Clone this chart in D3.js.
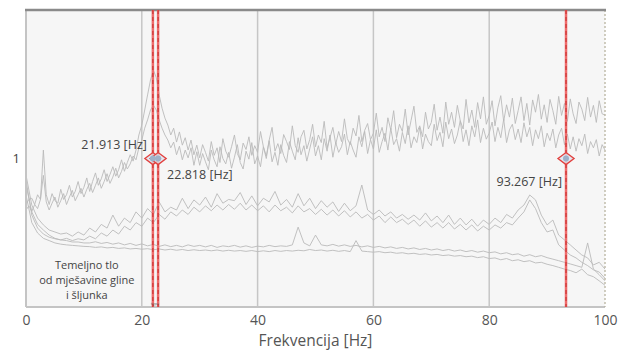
<!DOCTYPE html>
<html>
<head>
<meta charset="utf-8">
<script src="https://cdn.jsdelivr.net/npm/d3@7"></script>
<style>
  body { margin: 0; background: #fff; }
  svg { display: block; font-family: "Open Sans", "Noto Sans", sans-serif; }
</style>
</head>
<body>
<div id="chart"></div>
<script>
// frequency grids [Hz]
const freqFine = d3.range(0, 100.5, 0.5);
const freqCoarse = d3.range(0, 101, 1);

// upper spectra (0.5 Hz steps)
const upper1 = [0.49,0.53,0.54,0.49,0.57,0.53,1.14,0.57,
  0.49,0.58,0.52,0.50,0.62,0.53,0.57,0.66,0.55,0.60,0.70,0.58,
  0.64,0.74,0.60,0.70,0.80,0.66,0.73,0.84,0.70,0.78,
  0.88,0.76,0.84,0.98,0.82,0.94,1.06,0.96,1.14,1.44,
  1.68,2.12,2.68,3.38,3.94,3.50,2.68,2.18,1.87,1.68,
  1.44,1.60,1.29,1.51,1.23,1.38,1.14,1.33,1.06,1.23,
  1.01,1.24,1.10,0.96,1.30,1.05,1.18,0.94,1.36,1.12,
  1.02,1.20,1.44,1.08,0.98,1.27,1.15,1.40,1.05,1.22,
  1.10,1.52,1.20,1.04,1.33,1.62,1.12,1.26,1.08,1.45,
  1.30,1.15,1.66,1.22,1.10,1.40,1.55,1.16,1.34,1.70,
  1.20,1.44,1.28,1.78,1.18,1.38,1.62,1.25,1.52,1.30,
  1.85,1.36,1.24,1.60,1.42,1.95,1.30,1.55,1.72,1.34,
  1.48,2.02,1.40,1.62,1.30,1.88,1.56,2.10,1.38,1.70,
  1.52,2.15,1.44,1.80,2.25,1.50,1.66,1.40,2.05,1.58,
  1.75,2.32,1.55,1.90,1.48,2.40,1.70,2.05,1.62,2.28,
  1.80,1.58,2.50,1.74,2.12,1.62,2.38,1.85,2.60,1.70,
  1.95,2.45,1.66,2.20,2.65,1.78,2.30,1.90,2.55,1.72,
  2.10,2.60,1.80,2.35,1.68,2.48,2.05,2.70,1.84,2.30,
  1.75,2.50,2.10,1.70,2.62,1.95,2.35,1.78,2.52,2.00,
  1.72,2.40,2.15,1.80,2.58,1.90,2.28,1.75,2.45,2.00,
  1.96];

const upper2 = [0.45,0.48,0.44,0.49,0.46,0.53,0.77,0.51,
  0.45,0.50,0.55,0.47,0.52,0.58,0.49,0.55,0.61,0.52,0.57,0.63,
  0.55,0.62,0.68,0.59,0.66,0.74,0.63,0.70,0.79,0.68,
  0.75,0.86,0.74,0.82,0.94,0.85,0.92,1.04,0.98,1.18,
  1.33,1.60,1.82,2.12,2.29,2.12,1.82,1.60,1.44,1.33,
  1.18,1.29,1.06,1.21,0.98,1.14,1.01,1.18,0.90,1.11,
  0.90,1.08,0.95,0.84,1.14,0.98,0.88,1.20,1.00,0.92,
  1.10,0.86,1.02,1.24,0.94,0.85,1.12,0.99,1.28,0.92,
  1.04,0.88,1.20,1.00,1.32,0.95,1.10,0.90,1.24,1.05,
  0.94,1.30,1.12,0.98,1.38,1.06,1.22,0.96,1.16,1.40,
  1.04,1.22,0.98,1.36,1.12,1.44,1.02,1.28,1.10,1.20,
  1.46,1.06,1.30,1.14,1.02,1.40,1.20,1.52,1.08,1.34,
  1.16,1.56,1.10,1.30,1.48,1.14,1.60,1.24,1.36,1.12,
  1.50,1.26,1.66,1.18,1.40,1.28,1.62,1.16,1.46,1.30,
  1.22,1.70,1.32,1.50,1.20,1.76,1.36,1.58,1.26,1.44,
  1.80,1.30,1.56,1.22,1.66,1.40,1.82,1.28,1.60,1.35,
  1.48,1.76,1.30,1.62,1.38,1.84,1.28,1.56,1.70,1.34,
  1.58,1.28,1.74,1.40,1.62,1.22,1.56,1.36,1.66,1.20,
  1.48,1.32,1.58,1.18,1.44,1.60,1.24,1.46,1.16,1.40,
  1.12,1.36,1.22,1.46,1.08,1.30,1.18,1.34,1.04,1.24,
  1.14];

// middle spectra (1 Hz steps)
const middle1 = [0.774,0.486,0.397,0.357,0.330,0.320,0.310,0.315,0.300,0.320,
  0.305,0.340,0.320,0.360,0.340,0.416,0.350,0.397,0.370,0.437,
  0.397,0.460,0.420,0.510,0.437,0.470,0.450,0.540,0.460,0.526,
  0.486,0.550,0.470,0.580,0.500,0.530,0.520,0.590,0.490,0.560,
  0.480,0.540,0.510,0.600,0.486,0.530,0.470,0.580,0.480,0.540,
  0.460,0.520,0.470,0.510,0.440,0.500,0.445,0.480,0.663,0.450,
  0.420,0.450,0.410,0.437,0.397,0.420,0.390,0.416,0.385,0.430,
  0.380,0.410,0.370,0.416,0.360,0.397,0.357,0.390,0.350,0.385,
  0.360,0.397,0.370,0.420,0.397,0.450,0.486,0.568,0.526,0.416,
  0.357,0.385,0.305,0.283,0.262,0.242,0.224,0.214,0.192,0.200,
  0.180];

const middle2 = [0.663,0.437,0.360,0.330,0.305,0.290,0.283,0.290,0.280,0.288,
  0.283,0.300,0.288,0.315,0.300,0.330,0.310,0.350,0.330,0.370,
  0.350,0.397,0.370,0.420,0.390,0.437,0.410,0.450,0.420,0.470,
  0.437,0.480,0.445,0.486,0.450,0.490,0.455,0.500,0.450,0.486,
  0.445,0.480,0.437,0.486,0.445,0.470,0.430,0.480,0.437,0.460,
  0.420,0.455,0.416,0.450,0.410,0.445,0.404,0.437,0.397,0.420,
  0.385,0.410,0.370,0.404,0.370,0.390,0.360,0.385,0.350,0.380,
  0.345,0.370,0.340,0.370,0.335,0.360,0.330,0.357,0.325,0.350,
  0.330,0.357,0.340,0.370,0.357,0.397,0.437,0.526,0.460,0.370,
  0.320,0.330,0.262,0.242,0.224,0.214,0.200,0.190,0.178,0.172,
  0.156];

// lower spectra (1 Hz steps)
const lower1 = [0.717,0.416,0.340,0.310,0.295,0.288,0.283,0.280,0.274,0.274,
  0.270,0.270,0.275,0.268,0.272,0.265,0.270,0.262,0.268,0.260,
  0.266,0.258,0.264,0.256,0.262,0.255,0.260,0.254,0.262,0.256,
  0.260,0.254,0.260,0.252,0.258,0.255,0.260,0.253,0.258,0.252,
  0.257,0.254,0.260,0.255,0.258,0.256,0.262,0.345,0.270,0.258,
  0.305,0.262,0.258,0.264,0.257,0.262,0.256,0.260,0.254,0.258,
  0.252,0.256,0.250,0.254,0.248,0.252,0.246,0.250,0.244,0.248,
  0.242,0.246,0.240,0.244,0.238,0.242,0.236,0.240,0.234,0.238,
  0.232,0.235,0.228,0.232,0.225,0.228,0.220,0.225,0.218,0.222,
  0.215,0.210,0.205,0.200,0.195,0.190,0.185,0.270,0.180,0.165,
  0.150];

const lower2 = [0.568,0.370,0.315,0.290,0.280,0.270,0.265,0.262,0.260,0.258,
  0.256,0.255,0.252,0.254,0.250,0.252,0.248,0.250,0.246,0.248,
  0.245,0.247,0.243,0.246,0.242,0.245,0.241,0.244,0.240,0.243,
  0.240,0.242,0.239,0.242,0.238,0.241,0.238,0.240,0.237,0.240,
  0.236,0.239,0.236,0.240,0.237,0.240,0.238,0.241,0.239,0.244,
  0.240,0.242,0.238,0.241,0.237,0.240,0.236,0.280,0.238,0.236,
  0.234,0.236,0.232,0.234,0.230,0.232,0.228,0.230,0.226,0.228,
  0.224,0.226,0.222,0.224,0.220,0.222,0.218,0.220,0.215,0.218,
  0.212,0.214,0.208,0.212,0.205,0.208,0.202,0.205,0.198,0.200,
  0.194,0.190,0.185,0.180,0.176,0.170,0.180,0.165,0.160,0.150,
  0.140];

// cursor markers
const markerFreqs = [21.913, 22.818, 93.267];
const markerAmps = [1, 1, 1];
const markerLabels = ['21.913 [Hz]', '22.818 [Hz]', '93.267 [Hz]'];

const xTicks = [0, 20, 40, 60, 80, 100];
const yTicks = [1];
const noteLines = ['Temeljno tlo', 'od mješavine gline', 'i šljunka'];

const W = 621, H = 350;
const margin = { top: 10, right: 16, bottom: 43, left: 26 };
const width = W - margin.left - margin.right;
const height = H - margin.top - margin.bottom;

const svg = d3.select('#chart')
  .append('svg')
  .attr('width', W)
  .attr('height', H)
  .append('g')
  .attr('transform', `translate(${margin.left},${margin.top})`);

const x = d3.scaleLinear().domain([0, 100]).range([0, width]);
const y = d3.scaleLog().domain([0.1, 10]).range([height, 0]);

svg.append('rect')
  .attr('width', width)
  .attr('height', height)
  .attr('fill', '#f6f6f6');

// vertical grid
svg.append('g')
  .selectAll('line')
  .data([20, 40, 60, 80])
  .enter()
  .append('line')
  .attr('x1', d => x(d)).attr('x2', d => x(d))
  .attr('y1', 0).attr('y2', height)
  .attr('stroke', '#c6c6c6')
  .attr('stroke-width', 1.5);

// spectra
const line = d3.line()
  .x(d => x(d[0]))
  .y(d => y(d[1]));

const series = [
  [freqCoarse, lower2], [freqCoarse, lower1],
  [freqCoarse, middle2], [freqCoarse, middle1],
  [freqFine, upper2], [freqFine, upper1]
];

series.forEach(([fs, vals]) => {
  svg.append('path')
    .datum(fs.map((f, i) => [f, vals[i]]))
    .attr('fill', 'none')
    .attr('stroke', '#bababa')
    .attr('stroke-width', 0.9)
    .attr('stroke-linejoin', 'round')
    .attr('d', line);
});

// frame
svg.append('line').attr('x1', 0).attr('x2', 0).attr('y1', 0).attr('y2', height)
  .attr('stroke', '#c4c4c4').attr('stroke-width', 2);
svg.append('line').attr('x1', 0).attr('x2', width).attr('y1', height).attr('y2', height)
  .attr('stroke', '#c4c4c4').attr('stroke-width', 2);
svg.append('line').attr('x1', width).attr('x2', width).attr('y1', 0).attr('y2', height)
  .attr('stroke', '#b3ae98').attr('stroke-width', 1.2).attr('stroke-dasharray', '2,2');
svg.append('line').attr('x1', -1).attr('x2', width + 1).attr('y1', 0).attr('y2', 0)
  .attr('stroke', '#8a8a8a').attr('stroke-width', 2.5);

// cursor lines
const markers = markerFreqs.map((f, i) => ({ f, a: markerAmps[i], label: markerLabels[i] }));

svg.selectAll('.cursor')
  .data(markers)
  .enter()
  .append('line')
  .attr('x1', d => x(d.f)).attr('x2', d => x(d.f))
  .attr('y1', 0).attr('y2', height)
  .attr('stroke', '#ef6b6b')
  .attr('stroke-width', 2.5);

svg.selectAll('.cursor-dash')
  .data(markers)
  .enter()
  .append('line')
  .attr('x1', d => x(d.f)).attr('x2', d => x(d.f))
  .attr('y1', 0).attr('y2', height)
  .attr('stroke', '#c42a2a')
  .attr('stroke-width', 1)
  .attr('stroke-dasharray', '4,3');

// diamonds
const diamond = (cx, cy) => `M${cx - 8},${cy}L${cx},${cy - 6}L${cx + 8},${cy}L${cx},${cy + 6}Z`;

svg.selectAll('.diamond')
  .data(markers)
  .enter()
  .append('path')
  .attr('d', d => diamond(x(d.f), y(d.a)))
  .attr('fill', '#dde4ee')
  .attr('fill-opacity', 0.8)
  .attr('stroke', '#e2403e')
  .attr('stroke-width', 1.4);

svg.selectAll('.dot')
  .data(markers)
  .enter()
  .append('circle')
  .attr('cx', d => x(d.f))
  .attr('cy', d => y(d.a))
  .attr('r', 3)
  .attr('fill', '#9fb1c9');

// cursor labels
const labelPos = [
  { dx: -6, dy: -10, anchor: 'end' },
  { dx: 9, dy: 20, anchor: 'start' },
  { dx: -4, dy: 27, anchor: 'end' }
];

svg.selectAll('.cursor-label')
  .data(markers)
  .enter()
  .append('text')
  .attr('x', (d, i) => x(d.f) + labelPos[i].dx)
  .attr('y', (d, i) => y(d.a) + labelPos[i].dy)
  .attr('text-anchor', (d, i) => labelPos[i].anchor)
  .attr('fill', '#444')
  .style('font-size', '12.5px')
  .text(d => d.label);

// tiny tag at the cursor base
svg.append('text')
  .attr('x', x(22.3))
  .attr('y', height - 2)
  .attr('text-anchor', 'middle')
  .attr('fill', '#555')
  .style('font-size', '4px')
  .text('type');

// soil note
svg.append('g')
  .selectAll('text')
  .data(noteLines)
  .enter()
  .append('text')
  .attr('x', x(10.5))
  .attr('y', (d, i) => 259 + i * 15)
  .attr('text-anchor', 'middle')
  .attr('fill', '#444')
  .style('font-size', '11px')
  .text(d => d);

// axes
svg.append('g')
  .attr('transform', `translate(0,${height})`)
  .call(d3.axisBottom(x).tickValues(xTicks).tickSize(0).tickPadding(8).tickFormat(d3.format('d')))
  .call(g => g.select('.domain').remove())
  .call(g => g.selectAll('.tick text').attr('fill', '#555').style('font-size', '14px').style('font-family', '"Open Sans", sans-serif'));

svg.append('g')
  .call(d3.axisLeft(y).tickValues(yTicks).tickSize(0).tickPadding(6).tickFormat(d3.format('d')))
  .call(g => g.select('.domain').remove())
  .call(g => g.selectAll('.tick text').attr('fill', '#444').style('font-size', '13px').style('font-family', '"Open Sans", sans-serif'));

svg.append('text')
  .attr('x', width / 2)
  .attr('y', height + margin.bottom - 4)
  .attr('text-anchor', 'middle')
  .attr('fill', '#555')
  .style('font-size', '15.5px')
  .text('Frekvencija [Hz]');
</script>
</body>
</html>
